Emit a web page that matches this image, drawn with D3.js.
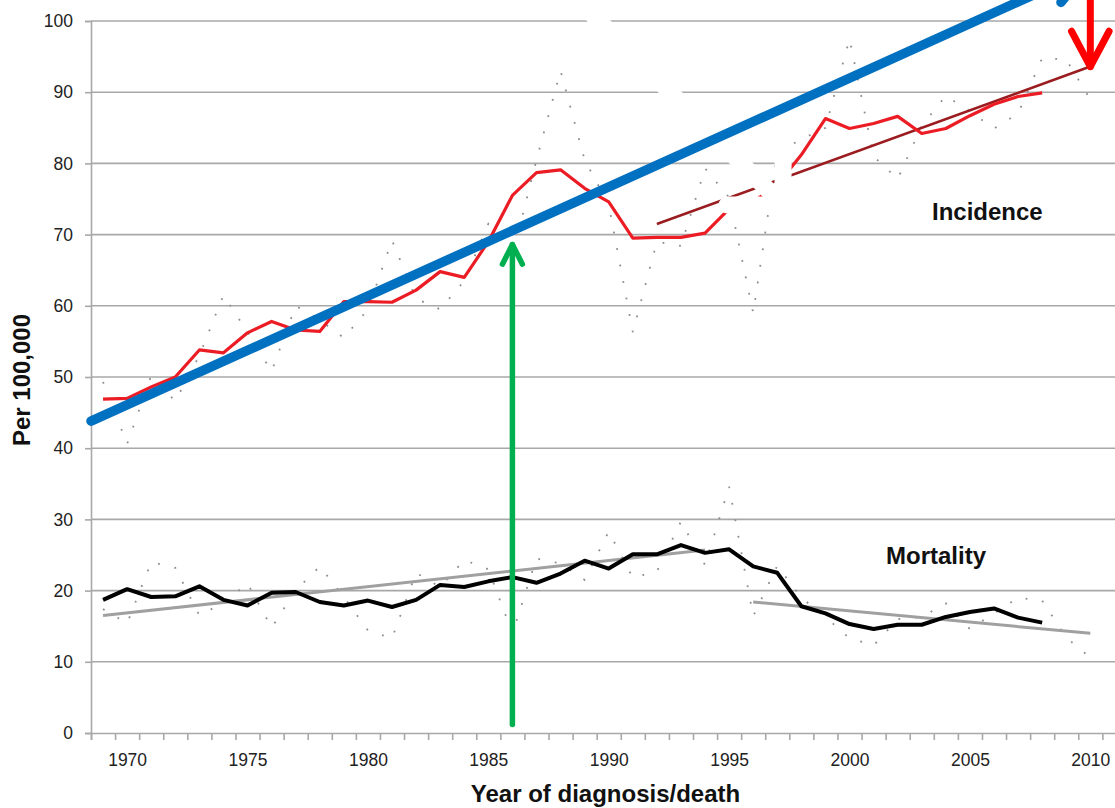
<!DOCTYPE html>
<html>
<head>
<meta charset="utf-8">
<script src="https://cdn.jsdelivr.net/npm/d3@7"></script>
<style>
  body { margin: 0; background: #fff; }
  svg { display: block; font-family: "Liberation Sans", Arial, sans-serif; }
</style>
</head>
<body>
<svg id="chart" width="1115" height="808"></svg>
<script>
// ---- data -------------------------------------------------------------
const smoothYears = d3.range(1969, 2009);          // 1969..2008
const rawYears = d3.range(1969, 2011);             // 1969..2010

// incidence, smoothed rate per 100,000
const incidenceSmoothed = [
  46.9, 47.0, 48.6, 50.0, 53.8, 53.4, 56.2, 57.8, 56.6, 56.4,
  60.6, 60.6, 60.5, 62.2, 64.8, 64.0, 69.0, 75.5, 78.7, 79.1,
  76.5, 74.6, 69.5, 69.6, 69.6, 70.2, 73.6, 74.6, 77.0, 81.2,
  86.3, 84.9, 85.6, 86.6, 84.2, 84.9, 86.7, 88.3, 89.4, 89.9
];
// incidence, annual rate per 100,000
const incidenceRaw = [
  49.3, 40.6, 50.2, 46.6, 53.0, 61.5, 56.3, 50.8, 60.0, 58.0,
  55.5, 59.5, 69.2, 61.0, 59.5, 63.5, 71.5, 67.0, 80.5, 93.0,
  80.5, 74.2, 56.3, 69.0, 68.4, 79.3, 75.2, 59.0, 81.5, 83.4,
  85.0, 97.5, 81.0, 77.8, 85.3, 89.5, 87.3, 84.9, 87.0, 94.8,
  94.6, 89.0
];
// mortality, smoothed rate per 100,000
const mortalitySmoothed = [
  18.7, 20.2, 19.1, 19.2, 20.6, 18.7, 17.9, 19.7, 19.8, 18.4,
  17.9, 18.6, 17.7, 18.7, 20.8, 20.5, 21.3, 21.9, 21.1, 22.4,
  24.2, 23.1, 25.1, 25.1, 26.4, 25.3, 25.8, 23.4, 22.5, 17.8,
  16.8, 15.3, 14.6, 15.2, 15.2, 16.3, 17.0, 17.5, 16.2, 15.5
];
// mortality, annual rate per 100,000
const mortalityRaw = [
  17.4, 15.4, 24.0, 23.2, 16.5, 18.3, 21.0, 14.8, 20.0, 23.4,
  19.1, 14.4, 13.3, 22.5, 20.5, 24.3, 23.0, 14.0, 24.5, 23.8,
  21.5, 28.3, 21.8, 22.7, 29.7, 23.6, 34.6, 16.4, 23.5, 19.0,
  16.3, 13.3, 12.3, 16.0, 16.3, 18.2, 14.6, 16.8, 19.0, 18.6,
  13.4, 10.6
];

// fitted trends: [start, end]
const incidenceTrendYears = [1992, 2010];
const incidenceTrendValues = [71.5, 93.6];
const mortalityTrend1Years = [1969, 1994];
const mortalityTrend1Values = [16.5, 25.7];
const mortalityTrend2Years = [1996, 2010];
const mortalityTrend2Values = [18.4, 14.0];

// annotation arrows: [tail, tip] in (year, rate)
const blueArrowYears = [1968.5, 2009.82];
const blueArrowValues = [43.8, 107.0];
const greenArrowYears = [1986, 1986];
const greenArrowValues = [1.2, 68.6];
const redArrowYears = [2010, 2010];
const redArrowValues = [104.5, 93.6];
const whiteArrowYears = [1988.72, 1997.24];
const whiteArrowValues = [102.95, 74.16];

const yTicks = d3.range(0, 101, 10);
const xLabelYears = [1970, 1975, 1980, 1985, 1990, 1995, 2000, 2005, 2010];

// ---- scales -----------------------------------------------------------
const svg = d3.select("#chart");
const plotLeft = 91, plotTop = 21, plotBottom = 733;
const band = 24.08;
const firstYear = 1969, lastYear = 2011;
const x = d3.scaleLinear()
  .domain([firstYear - 0.5, lastYear + 0.5])
  .range([plotLeft, plotLeft + (lastYear - firstYear + 1) * band]);
const y = d3.scaleLinear().domain([0, 100]).range([plotBottom, plotTop]);
const plotRight = x.range()[1];

const gridColor = "#a8a8a8";

// ---- gridlines & axes -------------------------------------------------
svg.append("g")
  .selectAll("line")
  .data(yTicks.filter(d => d > 0))
  .join("line")
  .attr("x1", plotLeft).attr("x2", plotRight)
  .attr("y1", d => y(d)).attr("y2", d => y(d))
  .attr("stroke", gridColor).attr("stroke-width", 1.6);

const yAxis = svg.append("g")
  .attr("transform", `translate(${plotLeft},0)`)
  .call(d3.axisLeft(y).tickValues(yTicks).tickSize(6).tickPadding(12));
yAxis.select(".domain").attr("stroke", gridColor).attr("stroke-width", 1.6);
yAxis.selectAll(".tick line").attr("stroke", gridColor).attr("stroke-width", 1.6);
yAxis.selectAll(".tick text")
  .attr("font-size", 17.5).attr("fill", "#222")
  .attr("font-family", "Liberation Sans, Arial, sans-serif");

// tick marks sit on year boundaries, labels on year centres
const boundaries = d3.range(firstYear - 0.5, lastYear + 1, 1);
const xTickAxis = svg.append("g")
  .attr("transform", `translate(0,${plotBottom})`)
  .call(d3.axisBottom(x).tickValues(boundaries).tickSize(7).tickFormat(""));
xTickAxis.select(".domain").attr("stroke", gridColor).attr("stroke-width", 1.6);
xTickAxis.selectAll(".tick line").attr("stroke", gridColor).attr("stroke-width", 1.6);

const xLabelAxis = svg.append("g")
  .attr("transform", `translate(0,${plotBottom})`)
  .call(d3.axisBottom(x).tickValues(xLabelYears).tickSize(0).tickPadding(21).tickFormat(d3.format("d")));
xLabelAxis.select(".domain").remove();
xLabelAxis.selectAll(".tick text")
  .attr("font-size", 17.5).attr("fill", "#222")
  .attr("font-family", "Liberation Sans, Arial, sans-serif");

// ---- series -----------------------------------------------------------
const line = (ys, vs) => d3.line().x((d, i) => x(ys[i])).y(d => y(d))(vs);

// annual rates as grey dotted lines
[incidenceRaw, mortalityRaw].forEach(vals => {
  svg.append("path")
    .attr("d", line(rawYears, vals))
    .attr("fill", "none").attr("stroke", "#8c8c8c")
    .attr("stroke-width", 1.8).attr("stroke-dasharray", "1.8 15");
});

// trend lines
svg.append("path").attr("d", line(mortalityTrend1Years, mortalityTrend1Values))
  .attr("fill", "none").attr("stroke", "#a0a0a0").attr("stroke-width", 3);
svg.append("path").attr("d", line(mortalityTrend2Years, mortalityTrend2Values))
  .attr("fill", "none").attr("stroke", "#a0a0a0").attr("stroke-width", 3);
svg.append("path").attr("d", line(incidenceTrendYears, incidenceTrendValues))
  .attr("fill", "none").attr("stroke", "#9a1c1f").attr("stroke-width", 2.6);

// smoothed rates
svg.append("path").attr("d", line(smoothYears, mortalitySmoothed))
  .attr("fill", "none").attr("stroke", "#000").attr("stroke-width", 4)
  .attr("stroke-linejoin", "round");
svg.append("path").attr("d", line(smoothYears, incidenceSmoothed))
  .attr("fill", "none").attr("stroke", "#ec1c24").attr("stroke-width", 3.2)
  .attr("stroke-linejoin", "round");

// ---- arrows -----------------------------------------------------------
function arrow(years, values, color, width, headLen, halfAngleDeg) {
  const x0 = x(years[0]), y0 = y(values[0]);
  const x1 = x(years[1]), y1 = y(values[1]);
  const ang = Math.atan2(y0 - y1, x0 - x1);            // pointing back along shaft
  const h = halfAngleDeg * Math.PI / 180;
  const a1 = [x1 + headLen * Math.cos(ang + h), y1 + headLen * Math.sin(ang + h)];
  const a2 = [x1 + headLen * Math.cos(ang - h), y1 + headLen * Math.sin(ang - h)];
  const g = svg.append("g").attr("fill", "none").attr("stroke", color)
    .attr("stroke-width", width).attr("stroke-linecap", "round")
    .attr("stroke-linejoin", "round");
  g.append("path").attr("d", `M${x0},${y0}L${x1},${y1}`);
  g.append("path").attr("d", `M${a1[0]},${a1[1]}L${x1},${y1}L${a2[0]},${a2[1]}`);
}

// white arrow erasing part of the plot
arrow(whiteArrowYears, whiteArrowValues, "#fff", 17, 56, 45);

// ---- series labels ----------------------------------------------------
svg.append("text").attr("x", 932).attr("y", 219.5)
  .attr("font-size", 24).attr("font-weight", "bold").attr("fill", "#111")
  .text("Incidence");
svg.append("text").attr("x", 886).attr("y", 563.5)
  .attr("font-size", 24).attr("font-weight", "bold").attr("fill", "#111")
  .text("Mortality");

// ---- axis titles ------------------------------------------------------
svg.append("text")
  .attr("x", 605.5).attr("y", 802)
  .attr("text-anchor", "middle")
  .attr("font-size", 24).attr("font-weight", "bold").attr("fill", "#111")
  .text("Year of diagnosis/death");
svg.append("text")
  .attr("transform", "translate(29.5,380) rotate(-90)")
  .attr("text-anchor", "middle")
  .attr("font-size", 24).attr("font-weight", "bold").attr("fill", "#111")
  .text("Per 100,000");

// ---- highlighted arrows -----------------------------------------------
arrow(blueArrowYears, blueArrowValues, "#0070c0", 9.5, 40, 27);
arrow(greenArrowYears, greenArrowValues, "#00b050", 5.5, 22, 27);
arrow(redArrowYears, redArrowValues, "#ff0000", 7, 40, 28);
</script>
</body>
</html>
